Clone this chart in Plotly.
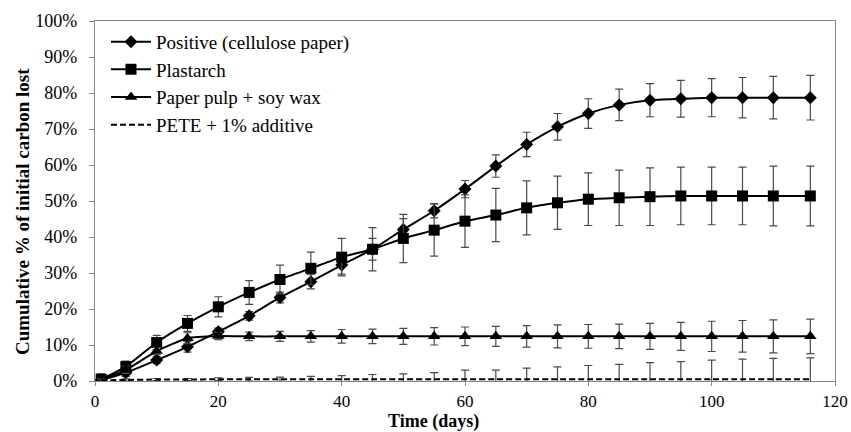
import plotly.graph_objects as go

days = [1, 5, 10, 15, 20, 25, 30, 35, 40, 45, 50, 55, 60, 65, 70, 75, 80, 85, 90, 95, 100, 105, 110, 116]

positive = [0.3, 2.3, 5.8, 9.5, 13.7, 18.1, 23.2, 27.6, 32.2, 36.6, 42.1, 47.3, 53.3, 59.7, 65.7, 70.6,
            74.3, 76.7, 78.0, 78.4, 78.7, 78.7, 78.7, 78.7]
positive_err = [1.0, 1.0, 1.0, 1.5, 1.0, 1.2, 1.5, 2.0, 2.5, 3.0, 3.0, 2.0, 2.4, 3.1, 3.4, 3.7,
                4.1, 4.4, 4.6, 5.1, 5.3, 5.6, 5.9, 6.2]

plastarch = [0.5, 4.0, 10.7, 16.0, 20.6, 24.6, 28.2, 31.3, 34.4, 36.6, 39.6, 41.9, 44.4, 46.1, 48.1, 49.5,
             50.5, 50.9, 51.2, 51.4, 51.4, 51.4, 51.4, 51.4]
plastarch_err = [1.5, 1.5, 2.0, 2.2, 2.8, 3.3, 4.0, 4.5, 5.2, 6.0, 6.7, 7.2, 7.3, 7.4, 7.5, 7.4,
                 7.3, 7.7, 8.0, 8.0, 8.0, 8.0, 8.3, 8.3]

pulp = [0.3, 3.1, 8.3, 11.9, 12.5, 12.4, 12.4, 12.4, 12.4, 12.4, 12.4, 12.4, 12.4, 12.4, 12.4, 12.4,
        12.4, 12.4, 12.4, 12.4, 12.4, 12.4, 12.4, 12.4]
pulp_err = [0.5, 1.0, 1.0, 1.5, 1.0, 1.2, 1.4, 1.6, 1.9, 2.0, 2.2, 2.4, 2.6, 2.8, 3.0, 3.2,
            3.3, 3.4, 3.6, 3.9, 4.2, 4.4, 4.6, 4.8]

pete = [0.2, 0.3, 0.4, 0.4, 0.5, 0.5, 0.5, 0.5, 0.5, 0.5, 0.5, 0.5, 0.5, 0.5, 0.5, 0.5,
        0.5, 0.5, 0.5, 0.5, 0.5, 0.5, 0.5, 0.5]
pete_err = [0.3, 0.3, 0.3, 0.3, 0.4, 0.5, 0.6, 0.8, 1.0, 1.3, 1.5, 1.8, 2.5, 2.5, 3.1, 3.4,
            3.8, 4.1, 4.6, 4.9, 5.3, 5.6, 5.8, 5.9]

y_ticks = [0, 10, 20, 30, 40, 50, 60, 70, 80, 90, 100]
y_tick_labels = ["0%", "10%", "20%", "30%", "40%", "50%", "60%", "70%", "80%", "90%", "100%"]
x_ticks = [0, 20, 40, 60, 80, 100, 120]
x_tick_labels = ["0", "20", "40", "60", "80", "100", "120"]

FONT = "Liberation Serif, Times New Roman, serif"
ERR = dict(type="data", visible=True, color="#4a4a4a", thickness=1.2, width=4)

fig = go.Figure()

def add(name, y, err, symbol, size, dash="solid", mode="lines+markers"):
    fig.add_trace(go.Scatter(
        x=days, y=y, name=name, mode=mode,
        line=dict(color="black", width=2, shape="spline", smoothing=0.6, dash=dash),
        marker=dict(symbol=symbol, size=size, color="black"),
        error_y=dict(array=err, **ERR),
    ))

add("Positive (cellulose paper)", positive, positive_err, "diamond", 10)
add("Plastarch", plastarch, plastarch_err, "square", 11)
add("Paper pulp + soy wax", pulp, pulp_err, "triangle-up", 11)
add("PETE + 1% additive", pete, pete_err, "circle", 1, dash="6px,3px", mode="lines")

L, R, T, B = 95, 16, 21, 51
pw = 851 - L - R
ph = 432 - T - B

fig.update_layout(
    width=851, height=432,
    margin=dict(l=L, r=R, t=T, b=B),
    paper_bgcolor="white", plot_bgcolor="white",
    font=dict(family=FONT, size=18, color="black"),
    showlegend=True,
    legend=dict(x=(106 - L) / pw, y=0.995, xanchor="left", yanchor="top",
                bgcolor="rgba(0,0,0,0)", font=dict(family=FONT, size=19, color="black"),
                tracegroupgap=0, itemwidth=40),
    xaxis=dict(range=[0, 120], tickmode="array", tickvals=x_ticks, ticktext=x_tick_labels,
               ticks="outside", ticklen=4, automargin=False,
               tickcolor="#888", showline=True, linecolor="#888", linewidth=1.2,
               mirror=True, showgrid=False, zeroline=False,
               tickfont=dict(family=FONT, size=17, color="black")),
    yaxis=dict(range=[0, 100], tickmode="array", tickvals=y_ticks, ticktext=y_tick_labels,
               ticks="outside", ticklen=5, automargin=False, ticklabelstandoff=8,
               tickcolor="#888", showline=True, linecolor="#888", linewidth=1.2,
               mirror=True, showgrid=False, zeroline=False,
               tickfont=dict(family=FONT, size=18, color="black")),
    annotations=[
        dict(text="<b>Time (days)</b>", xref="paper", yref="paper",
             x=(433 - L) / pw, y=-(421 - 381) / ph, xanchor="center", yanchor="middle",
             showarrow=False, font=dict(family=FONT, size=18, color="black")),
        dict(text="<b>Cumulative % of initial carbon lost</b>", textangle=-90,
             xref="paper", yref="paper", x=-(L - 22) / pw, y=(381 - 212) / ph,
             xanchor="center", yanchor="middle", showarrow=False,
             font=dict(family=FONT, size=19, color="black")),
    ],
)

fig.write_html("out.html")
